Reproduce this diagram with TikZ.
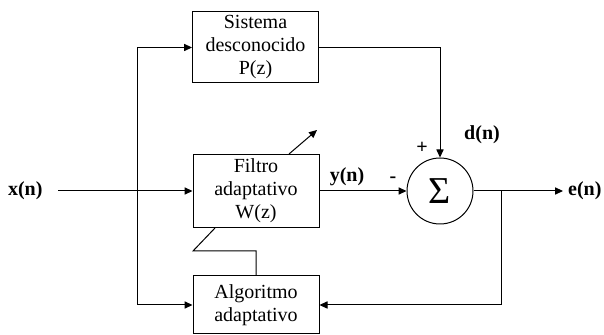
\documentclass[tikz,border=0pt]{standalone}
\usepackage{fontspec}
\setmainfont{Liberation Serif}
\usepackage{amsmath}
\usetikzlibrary{arrows.meta}

\begin{document}
\begin{tikzpicture}[
    x=0.5pt, y=-0.5pt,
    line width=0.5pt,
    >={Triangle[length=4pt,width=3.6pt]},
    bloque/.style={
        draw,
        minimum width=63pt,
        inner sep=1pt,
        align=center,
        font=\fontsize{10}{11.5}\selectfont
    },
    senal/.style={font=\fontsize{10}{12}\selectfont\bfseries, inner sep=0pt},
    signo/.style={font=\fontsize{10}{12}\selectfont\bfseries, inner sep=0pt}
]
\useasboundingbox (0,0) rectangle (604,335);

% bloques
\node[bloque, minimum height=35.5pt] (sistema) at (255.5,47.5) {Sistema\\desconocido\\P(z)};
\node[bloque, minimum height=36.5pt] (filtro) at (256,191) {Filtro\\adaptativo\\W(z)};
\node[bloque, minimum height=29pt] (algo) at (256,305) {Algoritmo\\adaptativo};
\node[draw, circle, minimum size=33pt, inner sep=0pt] (suma) at (440,191)
    {\fontsize{19}{19}\selectfont Σ};

% senales
\coordinate (entrada) at (58,191);
\coordinate (rama) at (137,191);
\coordinate (salida) at (563,191);
\coordinate (ramaE) at (501,191);
\coordinate (ajuste) at (317,130);
\coordinate (codo) at (193,251);

\node[senal, anchor=east] (xn) at (43,191) {x(n)};
\node[senal] (yn) at (347,177) {y(n)};
\node[senal] (dn) at (482,135) {d(n)};
\node[senal, anchor=east] (en) at (602,191) {e(n)};
\node[signo] (mas) at (422,148) {+};
\node[signo] (menos) at (393,180) {-};

% conexiones
\draw[->] (entrada) -- (filtro.west);
\draw[->] (rama) |- (sistema.west);
\draw[->] (rama) |- (algo.west);
\draw[->] (sistema.east) -| (suma.north);
\draw[->] (filtro.east) -- (suma.west);
\draw[->] (suma.east) -- (salida);
\draw[->] (ramaE) |- (algo.east);
\draw[->] ([xshift=16.5pt]filtro.north) -- (ajuste);
\draw (algo.north) |- (codo) -- ([xshift=-20.5pt]filtro.south);
\end{tikzpicture}
\end{document}
